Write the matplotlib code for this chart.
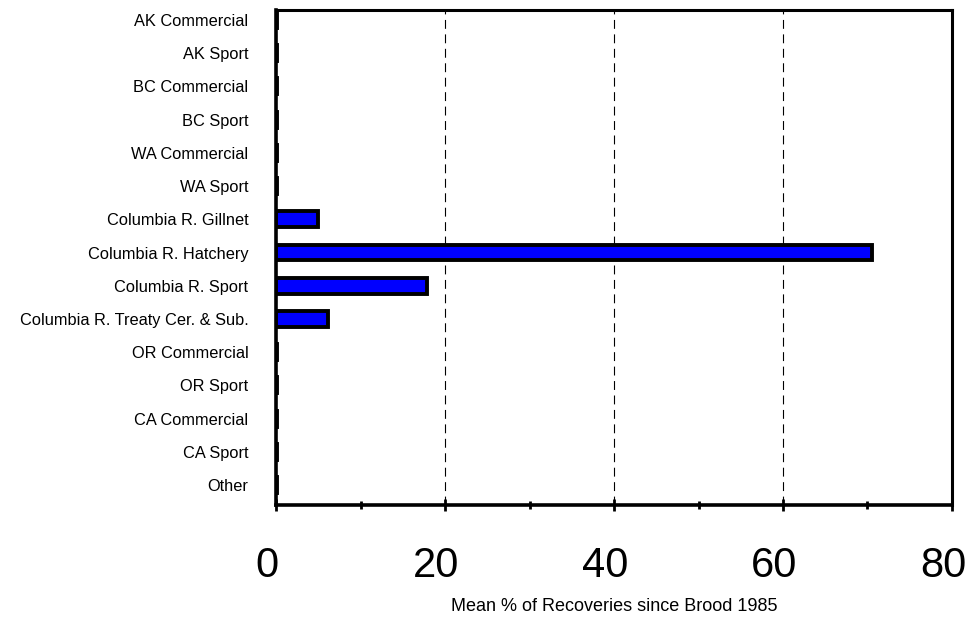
import matplotlib.pyplot as plt
import matplotlib.transforms as mtransforms
from matplotlib.ticker import MultipleLocator

plt.rcParams['font.family'] = ['Liberation Sans', 'DejaVu Sans']

categories = ["AK Commercial", "AK Sport", "BC Commercial", "BC Sport",
              "WA Commercial", "WA Sport", "Columbia R. Gillnet",
              "Columbia R. Hatchery", "Columbia R. Sport",
              "Columbia R. Treaty Cer. & Sub.", "OR Commercial", "OR Sport",
              "CA Commercial", "CA Sport", "Other"]
recoveries = [0.1, 0.1, 0.1, 0.1, 0.1, 0.1, 5.0, 70.5, 17.9, 6.2,
              0.1, 0.1, 0.1, 0.1, 0.1]
x_ticks = [0, 20, 40, 60, 80]

fig = plt.figure(figsize=(9.74, 6.17), dpi=100)
ax = fig.add_axes([0.2834, 0.1815, 0.694, 0.8023])

pos = list(range(len(categories)))
ax.barh(pos, recoveries, height=0.48, color="#0000ff",
        edgecolor="black", linewidth=2.8, zorder=3)

ax.set_ylim(14.6, -0.3)
ax.set_xlim(0, 80)
ax.set_yticks(pos)
ax.set_yticklabels(categories, fontsize=11.8)
ax.tick_params(axis="y", length=0, pad=20)

ax.set_xticks(x_ticks)
ax.xaxis.set_minor_locator(MultipleLocator(10))
ax.tick_params(axis="x", which="major", direction="inout", length=9,
               width=2, labelsize=30, pad=25)
ax.tick_params(axis="x", which="minor", direction="inout", length=6, width=2)

# the big tick numbers sit a little left of their ticks in the original
shift = mtransforms.ScaledTranslation(-0.09, 0, fig.dpi_scale_trans)
for lab in ax.get_xticklabels():
    lab.set_transform(lab.get_transform() + shift)

ax.xaxis.grid(True, which="major", color="black", linewidth=0.8,
              linestyle=(0, (8, 5)))
ax.set_axisbelow(True)

for side in ["left", "bottom"]:
    ax.spines[side].set_linewidth(2.6)
for side in ["top", "right"]:
    ax.spines[side].set_linewidth(2.2)

ax.set_xlabel("Mean % of Recoveries since Brood 1985", fontsize=13,
              labelpad=9)

fig.savefig("out.png", dpi=100)
